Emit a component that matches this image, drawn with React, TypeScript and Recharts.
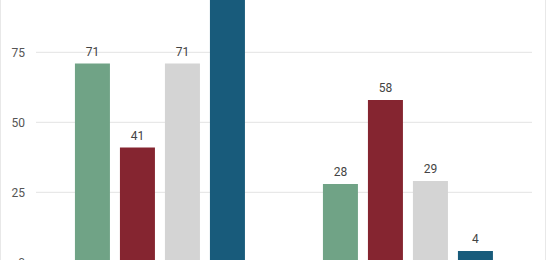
import React from "react";
import { BarChart, Bar, XAxis, YAxis, CartesianGrid, LabelList } from "recharts";

const categories = ["Group A", "Group B"];
const seriesGreen = [71, 28];
const seriesRed = [41, 58];
const seriesGray = [71, 29];
const seriesBlue = [96, 4];
const yTicks = [0, 25, 50, 75, 100];

const data = categories.map((c, i) => ({
  name: c,
  green: seriesGreen[i],
  red: seriesRed[i],
  gray: seriesGray[i],
  blue: seriesBlue[i],
}));

const labelStyle = { fill: "#444", fontSize: 12, fontFamily: "Roboto, sans-serif" };

export default function App() {
  return (
    <div style={{ width: 546, height: 260, overflow: "hidden", position: "relative", background: "#fff" }}>
      <style>{`body{margin:0}`}</style>
      <div style={{ position: "absolute", top: -40, left: 0 }}>
        <BarChart
          width={546}
          height={360}
          data={data}
          margin={{ top: 22.3, right: 14, bottom: 57.7, left: 0 }}
          barGap={10}
          barCategoryGap="15.7%"
        >
          <CartesianGrid vertical={false} stroke="#e3e3e3" />
          <XAxis dataKey="name" hide />
          <YAxis
            width={36}
            domain={[0, 100]}
            ticks={yTicks}
            axisLine={false}
            tickLine={false}
            tickSize={0}
            tickMargin={11}
            tick={{ fill: "#555", fontSize: 12, fontFamily: "Roboto, sans-serif" }}
          />
          <Bar dataKey="green" fill="#70A386" isAnimationActive={false}>
            <LabelList dataKey="green" position="top" offset={8} style={labelStyle} />
          </Bar>
          <Bar dataKey="red" fill="#852530" isAnimationActive={false}>
            <LabelList dataKey="red" position="top" offset={8} style={labelStyle} />
          </Bar>
          <Bar dataKey="gray" fill="#D4D4D4" isAnimationActive={false}>
            <LabelList dataKey="gray" position="top" offset={8} style={labelStyle} />
          </Bar>
          <Bar dataKey="blue" fill="#185B7B" isAnimationActive={false}>
            <LabelList dataKey="blue" position="top" offset={8} style={labelStyle} />
          </Bar>
        </BarChart>
      </div>
      <div style={{ position: "absolute", left: 0, top: 0, width: 1, height: 260, background: "#e8e8e8" }} />
      <div style={{ position: "absolute", left: 545, top: 0, width: 1, height: 260, background: "#e8e8e8" }} />
    </div>
  );
}
